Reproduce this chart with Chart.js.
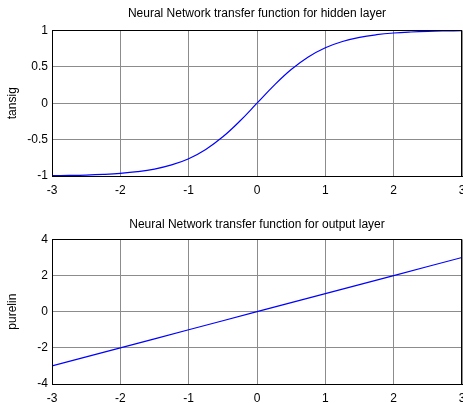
<!DOCTYPE html>
<html>
<head>
<meta charset="utf-8">
<script src="https://cdn.jsdelivr.net/npm/chart.js@4/dist/chart.umd.min.js"></script>
<style>
  html, body { margin: 0; padding: 0; background: #fff; }
  #wrap { position: relative; width: 463px; height: 403px; }
  .box { position: absolute; left: 0; width: 463px; }
</style>
</head>
<body>
<div id="wrap">
  <div class="box" style="top:0;height:200px"><canvas id="graficaOculta"></canvas></div>
  <div class="box" style="top:200px;height:203px"><canvas id="graficaSalida"></canvas></div>
</div>
<script>
// ---- datos ----
const entradas = [-3, -2.75, -2.5, -2.25, -2, -1.75, -1.5, -1.25, -1, -0.75, -0.5, -0.25, 0,
                  0.25, 0.5, 0.75, 1, 1.25, 1.5, 1.75, 2, 2.25, 2.5, 2.75, 3];
const valoresTansig = [-0.995, -0.992, -0.987, -0.978, -0.964, -0.941, -0.905, -0.848, -0.762, -0.635, -0.462, -0.245, 0,
                       0.245, 0.462, 0.635, 0.762, 0.848, 0.905, 0.941, 0.964, 0.978, 0.987, 0.992, 0.995];
const entradasLineal = [-3, -2, -1, 0, 1, 2, 3];
const valoresPurelin = [-3, -2, -1, 0, 1, 2, 3];

const ticksX = [-3, -2, -1, 0, 1, 2, 3];
const ticksTansig = [-1, -0.5, 0, 0.5, 1];
const ticksPurelin = [-4, -2, 0, 2, 4];

const fuente = '"Liberation Sans", Arial, sans-serif';
const colorRejilla = '#8c8c8c';

// caja negra alrededor del area (estilo matlab)
const marcoPlugin = {
    id: 'marco',
    afterDraw(chart) {
        const a = chart.chartArea;
        const ctx = chart.ctx;
        ctx.save();
        ctx.strokeStyle = '#000';
        ctx.lineWidth = 1;
        ctx.strokeRect(Math.round(a.left) + 0.5, Math.round(a.top) + 0.5,
                       Math.round(a.right - a.left) - 1, Math.round(a.bottom - a.top));
        ctx.restore();
    }
};

function crearGrafico(id, xs, ys, ticksY, titulo, etiquetaY, opc) {
    const ctx = document.getElementById(id).getContext('2d');
    return new Chart(ctx, {
        type: 'line',
        data: {
            datasets: [{
                data: xs.map((x, i) => ({ x: x, y: ys[i] })),
                borderColor: '#0000ff',
                borderWidth: 1.2,
                pointRadius: 0,
                tension: 0.4,
                fill: false
            }]
        },
        options: {
            responsive: true,
            maintainAspectRatio: false,
            animation: false,
            layout: { padding: { left: 0, right: 1, top: 0, bottom: 0 } },
            plugins: {
                legend: { display: false },
                tooltip: { enabled: false },
                title: {
                    display: true,
                    fullSize: false,
                    text: titulo,
                    color: '#000',
                    font: { family: fuente, size: 12, weight: 'normal', lineHeight: 1.2 },
                    padding: opc.tituloPadding
                }
            },
            scales: {
                x: {
                    type: 'linear',
                    min: -3,
                    max: 3,
                    afterBuildTicks: s => { s.ticks = ticksX.map(v => ({ value: v })); },
                    afterFit: s => { s.height = opc.altoX; s.paddingLeft = 0; s.paddingRight = 0; },
                    ticks: {
                        color: '#000',
                        font: { family: fuente, size: 12 },
                        padding: 7,
                        maxRotation: 0,
                        autoSkip: false,
                        callback: v => String(v)
                    },
                    grid: { color: colorRejilla, lineWidth: 1, drawTicks: false },
                    border: { color: '#000', width: 1 }
                },
                y: {
                    type: 'linear',
                    min: ticksY[0],
                    max: ticksY[ticksY.length - 1],
                    afterBuildTicks: s => { s.ticks = ticksY.map(v => ({ value: v })); },
                    afterFit: s => { s.width = 52; s.paddingTop = 0; s.paddingBottom = 0; },
                    title: {
                        display: true,
                        text: etiquetaY,
                        color: '#000',
                        font: { family: fuente, size: 12 },
                        padding: { top: 5, bottom: 4 }
                    },
                    ticks: {
                        color: '#000',
                        font: { family: fuente, size: 12 },
                        padding: 4,
                        autoSkip: false,
                        callback: v => String(v)
                    },
                    grid: { color: colorRejilla, lineWidth: 1, drawTicks: false },
                    border: { color: '#000', width: 1 }
                }
            }
        },
        plugins: [marcoPlugin]
    });
}

crearGrafico('graficaOculta', entradas, valoresTansig, ticksTansig,
    'Neural Network transfer function for hidden layer', 'tansig',
    { tituloPadding: { top: 6, bottom: 10 }, altoX: 24 });

crearGrafico('graficaSalida', entradasLineal, valoresPurelin, ticksPurelin,
    'Neural Network transfer function for output layer', 'purelin',
    { tituloPadding: { top: 17, bottom: 8 }, altoX: 19 });
</script>
</body>
</html>
